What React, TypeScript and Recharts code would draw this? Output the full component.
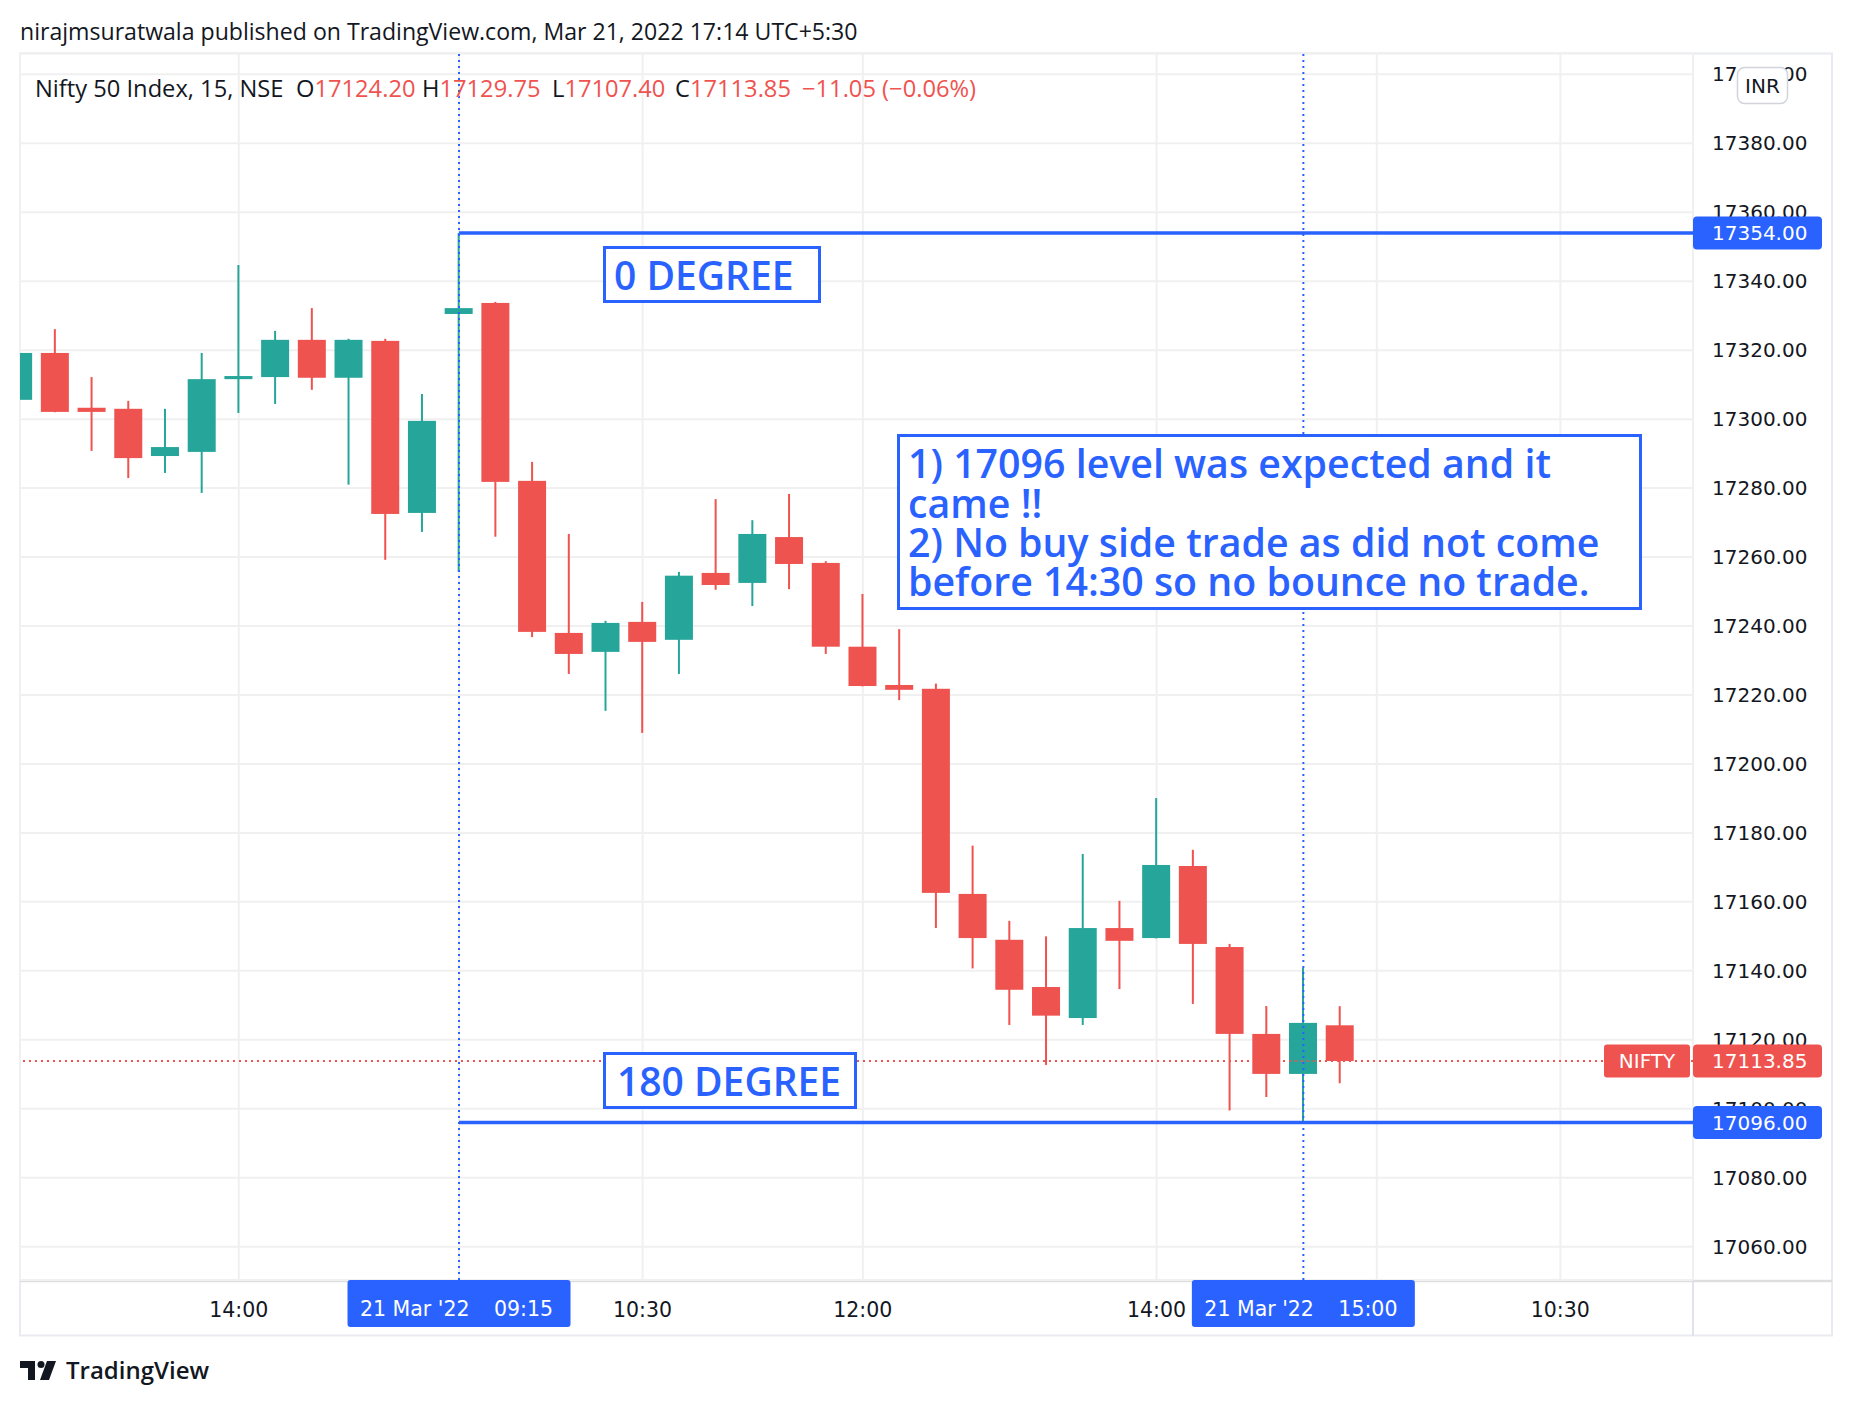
import React from 'react';
import { ComposedChart, Bar, XAxis, YAxis, CartesianGrid, ReferenceLine } from 'recharts';

const GREEN = '#26a69a';
const RED = '#ef5350';
const BLUE = '#2962ff';
const INK = '#131722';

// 15 min bars: tail of the 17 Mar session, then the full 21 Mar session
const times = [
  '12:30', '12:45', '13:00', '13:15', '13:30', '13:45', '14:00', '14:15', '14:30', '14:45', '15:00', '15:15',
  '09:15', '09:30', '09:45', '10:00', '10:15', '10:30', '10:45', '11:00', '11:15', '11:30', '11:45', '12:00',
  '12:15', '12:30', '12:45', '13:00', '13:15', '13:30', '13:45', '14:00', '14:15', '14:30', '14:45', '15:00', '15:15',
];
const opens = [
  17305.6, 17319.2, 17303.3, 17303.0, 17289.3, 17290.5, 17311.6, 17312.2, 17323.0, 17312.0, 17322.7, 17272.8,
  17330.5, 17333.7, 17282.1, 17238.0, 17232.5, 17241.2, 17236.0, 17255.4, 17252.5, 17265.8, 17258.3, 17234.0,
  17222.9, 17221.8, 17162.3, 17149.0, 17135.3, 17126.3, 17152.4, 17149.5, 17170.4, 17146.9, 17121.7, 17110.1, 17124.2,
];
const highs = [
  17322.0, 17326.1, 17312.2, 17305.3, 17303.0, 17319.2, 17344.7, 17325.6, 17332.2, 17323.3, 17323.3, 17307.3,
  17354.0, 17334.0, 17287.6, 17266.7, 17241.5, 17247.0, 17255.7, 17276.8, 17270.7, 17278.3, 17258.8, 17249.3,
  17239.1, 17223.3, 17176.3, 17154.5, 17150.0, 17173.9, 17160.3, 17190.1, 17175.1, 17147.8, 17129.8, 17140.9, 17129.75,
];
const lows = [
  17302.0, 17302.0, 17290.8, 17282.9, 17284.4, 17278.6, 17301.8, 17304.4, 17308.5, 17281.0, 17259.2, 17267.3,
  17255.8, 17265.9, 17236.8, 17226.1, 17215.4, 17209.0, 17226.1, 17250.5, 17245.8, 17250.7, 17231.9, 17222.5,
  17218.5, 17152.4, 17140.7, 17124.3, 17112.7, 17124.3, 17134.7, 17149.4, 17130.4, 17099.5, 17103.4, 17096.0, 17107.4,
];
const closes = [
  17319.2, 17302.1, 17302.1, 17288.7, 17291.9, 17311.6, 17312.5, 17323.0, 17312.0, 17323.0, 17272.5, 17299.5,
  17332.2, 17281.8, 17238.3, 17231.9, 17240.9, 17235.4, 17254.6, 17251.9, 17266.7, 17258.0, 17234.0, 17222.6,
  17221.5, 17162.6, 17149.5, 17134.5, 17127.0, 17152.4, 17148.7, 17170.7, 17147.8, 17121.7, 17110.1, 17124.9, 17113.85,
];

const priceTicks = [
  17060, 17080, 17100, 17120, 17140, 17160, 17180, 17200, 17220, 17240,
  17260, 17280, 17300, 17320, 17340, 17360, 17380, 17400,
];
// bar slots that carry a time label (12 and 37 are day starts, label hidden)
const timeTickIdx = [6, 12, 17, 23, 31, 37, 42];
const timeTickLabels = ['14:00', '', '10:30', '12:00', '14:00', '', '10:30'];

const levelTop = 17354;
const levelBottom = 17096;
const dateLabel = "21 Mar '22";
const sessionStart = times.indexOf('09:15');
const markTime = '15:00';
const markIdx = times.lastIndexOf(markTime);

const rows = times.map((t, i) => ({
  idx: i,
  time: t,
  open: opens[i],
  high: highs[i],
  low: lows[i],
  close: closes[i],
}));

const last = rows[rows.length - 1];
const prevClose = closes[closes.length - 2];
const change = last.close - prevClose;
const changePct = (change / prevClose) * 100;
const fmt = (v: number) => v.toFixed(2);
const minus = (v: number) => (v < 0 ? '\u2212' + Math.abs(v).toFixed(2) : '+' + v.toFixed(2));

const Candle = (props: any) => {
  const { x, y, width, height, payload } = props;
  if (!payload || x == null) return null;
  const { open, close, high, low } = payload;
  const top = Math.min(y, y + height);
  const h = Math.abs(height);
  const ppu = h / (high - low);
  const yOf = (v: number) => top + (high - v) * ppu;
  const color = close >= open ? GREEN : RED;
  const cx = x + width / 2;
  const bodyTop = yOf(Math.max(open, close));
  const bodyH = Math.max(yOf(Math.min(open, close)) - bodyTop, 3);
  return (
    <g>
      <rect x={cx - 1} y={top} width={2} height={h} fill={color} />
      <rect x={x} y={bodyTop} width={width} height={bodyH} fill={color} />
    </g>
  );
};

const PriceTag = (props: any) => {
  const { viewBox, value, color, name } = props;
  if (!viewBox) return null;
  const right = viewBox.x + viewBox.width;
  const y = viewBox.y;
  return (
    <g>
      {name && (
        <g>
          <rect x={right - 89} y={y - 16.5} width={86} height={33} rx={3} fill={color} />
          <text x={right - 46} y={y + 7.5} textAnchor="middle" fill="#fff" fontFamily="DejaVu Sans" fontSize={20}>
            {name}
          </text>
        </g>
      )}
      <rect x={right} y={y - 16.5} width={129} height={33} rx={4} fill={color} />
      <text x={right + 19} y={y + 7.5} fill="#fff" fontFamily="DejaVu Sans" fontSize={20}>
        {fmt(value)}
      </text>
    </g>
  );
};

const TimeTag = (props: any) => {
  const { viewBox, time } = props;
  if (!viewBox) return null;
  const cx = viewBox.x;
  const y0 = viewBox.y + viewBox.height;
  return (
    <g>
      <rect x={cx - 111.5} y={y0} width={223} height={47} rx={3} fill={BLUE} />
      <text x={cx - 99} y={y0 + 36} fill="#fff" fontFamily="DejaVu Sans" fontSize={20.5}>
        {dateLabel}
      </text>
      <text x={cx + 35} y={y0 + 36} fill="#fff" fontFamily="DejaVu Sans" fontSize={20.5}>
        {time}
      </text>
    </g>
  );
};

const noteFont = { fontFamily: 'Open Sans', fontWeight: 600, fontSize: 39.3, fill: BLUE };

export default function App() {
  return (
    <div style={{ position: 'absolute', left: 0, top: 0, width: 1852, height: 1406, background: '#fff' }}>
      {/* frame */}
      <svg width={1852} height={1406} style={{ position: 'absolute', left: 0, top: 0 }}>
        <rect x={20} y={53.5} width={1812} height={1282} fill="none" stroke="#e9ebf1" strokeWidth={2} />
        <line x1={1693} y1={53} x2={1693} y2={1336} stroke="#e0e3eb" strokeWidth={2} />
        <line x1={20} y1={1281} x2={1832} y2={1281} stroke="#dedede" strokeWidth={2.5} />
      </svg>

      <div style={{ position: 'absolute', left: 0, top: 0 }}>
        <ComposedChart
          width={1852}
          height={1406}
          data={rows}
          margin={{ top: 53, right: 20, bottom: 70, left: 20 }}
        >
          <CartesianGrid stroke="#f0f0f0" strokeWidth={2} />
          <XAxis
            dataKey="idx"
            type="number"
            domain={[0.041, 45.614]}
            allowDataOverflow
            ticks={timeTickIdx}
            interval={0}
            tickFormatter={(v: number) => timeTickLabels[timeTickIdx.indexOf(v)] ?? ''}
            height={56}
            axisLine={false}
            tickLine={false}
            tickSize={0}
            tickMargin={22}
            tick={{ fontFamily: 'DejaVu Sans', fontSize: 20.5, fill: INK }}
          />
          <YAxis
            orientation="right"
            type="number"
            domain={[17050.33, 17406.19]}
            allowDataOverflow
            ticks={priceTicks}
            interval={0}
            tickFormatter={(v: number) => v.toFixed(2)}
            width={139}
            axisLine={false}
            tickLine={false}
            tickSize={0}
            tickMargin={19}
            tick={{ fontFamily: 'DejaVu Sans', fontSize: 20, fill: INK, textAnchor: 'start' }}
          />
          <ReferenceLine
            x={sessionStart}
            stroke={BLUE}
            strokeWidth={2}
            strokeDasharray="2 4"
            label={<TimeTag time={times[sessionStart]} />}
          />
          <ReferenceLine
            x={markIdx}
            stroke={BLUE}
            strokeWidth={2}
            strokeDasharray="2 4"
            label={<TimeTag time={markTime} />}
          />
          <Bar
            dataKey={(d: any) => [d.low, d.high]}
            barSize={28}
            shape={Candle}
            isAnimationActive={false}
          />
          <ReferenceLine
            segment={[{ x: sessionStart, y: levelTop }, { x: 45.614, y: levelTop }]}
            stroke={BLUE}
            strokeWidth={3.5}
            zIndex={2500}
            label={<PriceTag value={levelTop} color={BLUE} />}
          />
          <ReferenceLine
            segment={[{ x: sessionStart, y: levelBottom }, { x: 45.614, y: levelBottom }]}
            stroke={BLUE}
            strokeWidth={3.5}
            zIndex={2500}
            label={<PriceTag value={levelBottom} color={BLUE} />}
          />
          <ReferenceLine
            y={last.close}
            stroke={RED}
            strokeWidth={2}
            strokeDasharray="2 4"
            zIndex={2500}
            label={<PriceTag value={last.close} color={RED} name="NIFTY" />}
          />
        </ComposedChart>
      </div>

      {/* header, drawings, badges */}
      <svg width={1852} height={1406} style={{ position: 'absolute', left: 0, top: 0, pointerEvents: 'none' }}>
        <text x={20} y={39.5} fontFamily="Open Sans" fontSize={23.1} fill={INK}>
          nirajmsuratwala published on TradingView.com, Mar 21, 2022 17:14 UTC+5:30
        </text>
        <text y={96.5} fontFamily="Open Sans" fontSize={23.7}>
          <tspan x={35} fill={INK}>Nifty 50 Index, 15, NSE</tspan>
          <tspan x={296} fill={INK}>O</tspan>
          <tspan fill={RED}>{fmt(last.open)}</tspan>
          <tspan x={422} fill={INK}>H</tspan>
          <tspan fill={RED}>{fmt(last.high)}</tspan>
          <tspan x={552} fill={INK}>L</tspan>
          <tspan fill={RED}>{fmt(last.low)}</tspan>
          <tspan x={675} fill={INK}>C</tspan>
          <tspan fill={RED}>{fmt(last.close)}</tspan>
          <tspan x={802} fill={RED}>{minus(change)} ({minus(changePct)}%)</tspan>
        </text>

        <rect x={1737.5} y={67.5} width={50} height={36} rx={7} fill="#fff" stroke="#d1d4dc" strokeWidth={1.5} />
        <text x={1762.5} y={93} textAnchor="middle" fontFamily="DejaVu Sans" fontSize={20} fill={INK}>INR</text>

        <rect x={604.5} y={247.5} width={215} height={54} fill="#fff" stroke={BLUE} strokeWidth={3} />
        <text x={614} y={290} {...noteFont} fontSize={39}>0 DEGREE</text>

        <rect x={898.5} y={435.5} width={742} height={173} fill="#fff" stroke={BLUE} strokeWidth={3} />
        <text {...noteFont}>
          <tspan x={908} y={478}>1) 17096 level was expected and it</tspan>
          <tspan x={908} y={517.5}>came !!</tspan>
          <tspan x={908} y={556.5}>2) No buy side trade as did not come</tspan>
          <tspan x={908} y={595.5}>before 14:30 so no bounce no trade.</tspan>
        </text>

        <rect x={604.5} y={1053.5} width={251} height={54} fill="#fff" stroke={BLUE} strokeWidth={3} />
        <text x={617} y={1096} {...noteFont} fontSize={39}>180 DEGREE</text>

        <g fill={INK}>
          <path d="M20 1361 H35 V1380 H28 V1368 H20 Z" />
          <circle cx={41} cy={1364.5} r={3.5} />
          <path d="M47 1361 H56 L49 1380 H40 Z" />
        </g>
        <text x={66} y={1379} fontFamily="Open Sans" fontWeight={600} fontSize={24} fill={INK}>TradingView</text>
      </svg>
    </div>
  );
}
